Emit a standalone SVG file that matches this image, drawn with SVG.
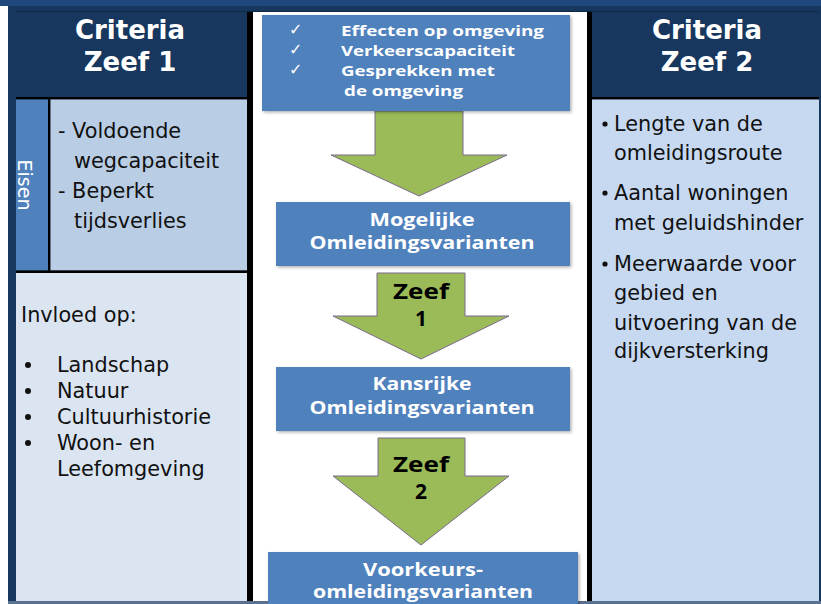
<svg xmlns="http://www.w3.org/2000/svg" width="821" height="604" viewBox="0 0 821 604">
<defs>
<style>
.hd{font-family:"DejaVu Sans",Verdana,sans-serif;font-weight:bold;font-size:26px;fill:#fff;text-anchor:middle}
.bt{font-family:"DejaVu Sans",Verdana,sans-serif;font-size:20.8px;fill:#111}
.bx{font-family:"Open Sans","DejaVu Sans",sans-serif;font-weight:bold;fill:#fff;font-size:14.5px}
.bxc{font-family:"Open Sans","DejaVu Sans",sans-serif;font-weight:bold;fill:#fff;font-size:18px;text-anchor:middle}
.zf{font-family:"Open Sans","DejaVu Sans",sans-serif;font-weight:bold;fill:#000;font-size:21px;text-anchor:middle}
.box{fill:#4f81bd;filter:url(#sh)}
.arr{fill:#9bbb59;stroke:#7a6b8e;stroke-width:1}
</style>
<filter id="sh" x="-5%" y="-10%" width="110%" height="130%">
<feDropShadow dx="1.5" dy="1.5" stdDeviation="1.5" flood-color="#000" flood-opacity="0.3"/>
</filter>
</defs>
<!-- background frame -->
<rect x="0" y="0" width="821" height="604" fill="#17375e"/>
<rect x="0" y="0" width="821" height="6" fill="#1f497d"/>
<rect x="0" y="6" width="8" height="598" fill="#ffffff"/>
<rect x="0" y="601" width="821" height="3" fill="#5b7190"/>
<rect x="0" y="601" width="8" height="3" fill="#ffffff"/>
<line x1="16" y1="11.5" x2="819" y2="11.5" stroke="#0e2745" stroke-width="1"/>
<!-- center area -->
<rect x="247" y="12" width="6" height="589" fill="#000"/>
<rect x="253" y="12" width="334" height="589" fill="#ffffff"/>
<rect x="587" y="12" width="5" height="589" fill="#000"/>

<g id="col-zeef1">
<text class="hd" x="130" y="39">Criteria</text>
<text class="hd" x="130" y="71">Zeef 1</text>
<rect x="16" y="97" width="231" height="2.5" fill="#000"/>
<rect x="16" y="99.5" width="32" height="171" fill="#4f81bd"/>
<rect x="48" y="99.5" width="2.5" height="171" fill="#000"/>
<rect x="50.5" y="99.5" width="196.5" height="171" fill="#b9cde5"/>
<rect x="16" y="270.5" width="231" height="2.5" fill="#000"/>
<rect x="16" y="273" width="231" height="328" fill="#dbe5f1"/>
<text x="185" y="-18" transform="rotate(90)" text-anchor="middle" font-family="DejaVu Sans,Verdana,sans-serif" font-size="19" fill="#fff">Eisen</text>
<text class="bt" x="58" y="138">- Voldoende</text>
<text class="bt" x="74" y="168">wegcapaciteit</text>
<text class="bt" x="58" y="198">- Beperkt</text>
<text class="bt" x="74" y="228">tijdsverlies</text>
<text class="bt" x="21" y="322">Invloed op:</text>
<g fill="#111">
<circle cx="28" cy="365" r="3"/>
<circle cx="28" cy="391" r="3"/>
<circle cx="28" cy="417" r="3"/>
<circle cx="28" cy="443" r="3"/>
</g>
<text class="bt" x="57" y="372">Landschap</text>
<text class="bt" x="57" y="398">Natuur</text>
<text class="bt" x="57" y="424">Cultuurhistorie</text>
<text class="bt" x="57" y="450">Woon- en</text>
<text class="bt" x="57" y="476">Leefomgeving</text>
</g>

<g id="col-zeef2">
<text class="hd" x="707" y="39">Criteria</text>
<text class="hd" x="707" y="71">Zeef 2</text>
<rect x="592" y="97" width="227" height="2.5" fill="#000"/>
<rect x="592" y="99.5" width="227" height="501.5" fill="#c6d9f1"/>
<g fill="#111">
<circle cx="605" cy="124" r="2.6"/>
<circle cx="605" cy="193" r="2.6"/>
<circle cx="605" cy="264" r="2.6"/>
</g>
<text class="bt" x="614" y="131">Lengte van de</text>
<text class="bt" x="614" y="160">omleidingsroute</text>
<text class="bt" x="614" y="200">Aantal woningen</text>
<text class="bt" x="614" y="230">met geluidshinder</text>
<text class="bt" x="614" y="271">Meerwaarde voor</text>
<text class="bt" x="614" y="300">gebied en</text>
<text class="bt" x="614" y="330">uitvoering van de</text>
<text class="bt" x="614" y="358">dijkversterking</text>
</g>

<g id="connectors">
<polygon class="arr" points="375,111 463,111 463,155 507,155 419,196 331,155 375,155"/>
<polygon class="arr" points="377,273 465,273 465,316 509,316 421,359 333,316 377,316"/>
<polygon class="arr" points="378,438 465,438 465,476 509,476 421,545 333,476 378,476"/>
<text class="zf" x="421" y="299" textLength="56" lengthAdjust="spacingAndGlyphs">Zeef</text>
<text class="zf" x="421" y="326">1</text>
<text class="zf" x="421" y="472" textLength="56" lengthAdjust="spacingAndGlyphs">Zeef</text>
<text class="zf" x="421" y="499">2</text>
</g>

<g id="box-criteria">
<rect class="box" x="262" y="15" width="308" height="96"/>
<g font-family="DejaVu Sans,sans-serif" font-size="16" fill="#fff">
<text x="289" y="35">✓</text>
<text x="289" y="55">✓</text>
<text x="289" y="75">✓</text>
</g>
<text class="bx" x="341" y="36" textLength="203" lengthAdjust="spacingAndGlyphs">Effecten op omgeving</text>
<text class="bx" x="341" y="56" textLength="174" lengthAdjust="spacingAndGlyphs">Verkeerscapaciteit</text>
<text class="bx" x="341" y="76" textLength="154" lengthAdjust="spacingAndGlyphs">Gesprekken met</text>
<text class="bx" x="344" y="96" textLength="119" lengthAdjust="spacingAndGlyphs">de omgeving</text>
</g>

<g id="box-mogelijke">
<rect class="box" x="276" y="202" width="294" height="64"/>
<text class="bxc" x="422" y="226" textLength="105" lengthAdjust="spacingAndGlyphs">Mogelijke</text>
<text class="bxc" x="422" y="249" textLength="225" lengthAdjust="spacingAndGlyphs">Omleidingsvarianten</text>
</g>

<g id="box-kansrijke">
<rect class="box" x="276" y="367" width="294" height="64"/>
<text class="bxc" x="422" y="390" textLength="99" lengthAdjust="spacingAndGlyphs">Kansrijke</text>
<text class="bxc" x="422" y="414" textLength="225" lengthAdjust="spacingAndGlyphs">Omleidingsvarianten</text>
</g>

<g id="box-voorkeur">
<rect class="box" x="268" y="552" width="310" height="60"/>
<text class="bxc" x="423" y="576" textLength="120" lengthAdjust="spacingAndGlyphs">Voorkeurs-</text>
<text class="bxc" x="423" y="598" textLength="220" lengthAdjust="spacingAndGlyphs">omleidingsvarianten</text>
</g>
</svg>
